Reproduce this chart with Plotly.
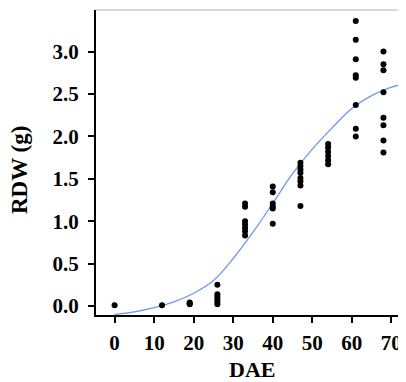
import plotly.graph_objects as go

# Observed data (DAE, RDW g)
dae_obs = [0,
           12,
           19, 19, 19,
           26, 26, 26, 26, 26, 26,
           33, 33, 33, 33, 33, 33, 33,
           40, 40, 40, 40, 40, 40,
           47, 47, 47, 47, 47, 47, 47, 47,
           54, 54, 54, 54, 54, 54,
           61, 61, 61, 61, 61, 61, 61, 61,
           68, 68, 68, 68, 68, 68, 68, 68]
rdw_obs = [0.01,
           0.01,
           0.02, 0.03, 0.04,
           0.25, 0.14, 0.11, 0.08, 0.05, 0.02,
           1.21, 1.17, 1.00, 0.96, 0.92, 0.88, 0.83,
           1.41, 1.34, 1.21, 1.17, 1.15, 0.97,
           1.69, 1.65, 1.61, 1.57, 1.51, 1.47, 1.42, 1.18,
           1.91, 1.87, 1.82, 1.77, 1.72, 1.67,
           3.36, 3.14, 2.91, 2.72, 2.69, 2.37, 2.09, 2.00,
           3.00, 2.85, 2.78, 2.52, 2.22, 2.13, 1.95, 1.81]

# Fitted curve
dae_fit = [0, 5, 10, 15, 20, 25, 30, 35, 40, 45, 50, 55, 60, 65, 70, 75]
rdw_fit = [-0.10, -0.07, -0.02, 0.05, 0.15, 0.30, 0.56, 0.87, 1.21, 1.56, 1.85, 2.10, 2.33, 2.48, 2.58, 2.64]

x_ticks = [0, 10, 20, 30, 40, 50, 60, 70]
y_ticks = [0.0, 0.5, 1.0, 1.5, 2.0, 2.5, 3.0]
y_tick_labels = ["0.0", "0.5", "1.0", "1.5", "2.0", "2.5", "3.0"]

font_family = "Liberation Serif, Times New Roman, serif"

fig = go.Figure()
fig.add_trace(go.Scatter(x=dae_fit, y=rdw_fit, mode="lines",
                         line=dict(color="#7097e8", width=1.3, shape="spline"),
                         showlegend=False, hoverinfo="skip"))
fig.add_trace(go.Scatter(x=dae_obs, y=rdw_obs, mode="markers",
                         marker=dict(color="black", size=6),
                         showlegend=False))

# the page body adds an 8px margin, so the figure is 8px smaller each way
fig.update_layout(
    width=398, height=374,
    margin=dict(l=88, r=0, t=2, b=67),
    paper_bgcolor="white", plot_bgcolor="white",
    font=dict(family=font_family, color="black"),
    xaxis=dict(range=[-4.7, 73.7], tickvals=x_ticks, showgrid=False, zeroline=False,
               showline=True, linecolor="black", linewidth=2, automargin=False,
               ticks="outside", ticklen=6, tickwidth=1.5, tickcolor="black",
               ticklabelstandoff=2,
               tickfont=dict(size=21, family=font_family, weight="bold")),
    yaxis=dict(range=[-0.106, 3.49], tickvals=y_ticks, ticktext=y_tick_labels,
               showgrid=False, zeroline=False, automargin=False,
               showline=True, linecolor="black", linewidth=2,
               ticks="outside", ticklen=6, tickwidth=1.5, tickcolor="black",
               ticklabelstandoff=5,
               tickfont=dict(size=21, family=font_family, weight="bold")),
    shapes=[dict(type="line", xref="paper", yref="paper", x0=0, x1=1, y0=1, y1=1,
                 line=dict(color="#d9d9d9", width=2))],
    annotations=[
        dict(text="<b>DAE</b>", xref="paper", yref="paper", x=(244 - 88) / 310, y=-(361 - 307) / 305,
             xanchor="center", yanchor="middle", showarrow=False,
             font=dict(size=22, family=font_family)),
        dict(text="<b>RDW (g)</b>", xref="paper", yref="paper", x=-(88 - 11) / 310, y=(307 - 162) / 305,
             xanchor="center", yanchor="middle", showarrow=False, textangle=-90,
             font=dict(size=23, family=font_family)),
    ],
)

fig.write_html("out.html")
